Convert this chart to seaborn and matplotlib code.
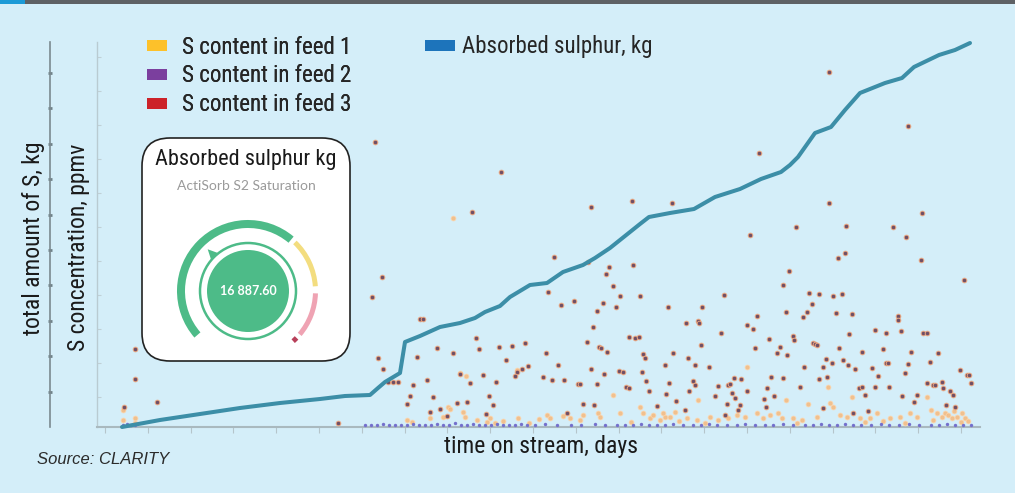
import matplotlib
matplotlib.use("Agg")
import numpy as np
import matplotlib.pyplot as plt
import seaborn as sns
from matplotlib.patches import Patch, Rectangle, FancyBboxPatch, Wedge, Circle, Polygon

# absorbed sulphur, cumulative (days on stream, kg)
line_days = [6.25, 15.75, 25.75, 35.75, 45.75, 55.75, 62, 68.25, 70.25, 72,
             75.75, 77, 80.75, 85.75, 90.75, 94.5, 97, 100.75, 103.25, 108.25,
             112.5, 116.5, 121.5, 124.5, 128.25, 132, 135.75, 138, 143.25, 149.25,
             154.5, 160.75, 166, 171, 173.25, 175.25, 179.5, 183.5, 187, 190.75,
             197, 201.25, 204.25, 210.5, 214.5, 218.25]
line_kg = [0, 350, 650, 950, 1200, 1400, 1550, 1600, 1950, 2250,
           2700, 4250, 4550, 5000, 5200, 5450, 5750, 6050, 6500, 7100,
           7200, 7750, 8100, 8450, 8950, 9550, 10150, 10500, 10700, 10900,
           11500, 11900, 12400, 12750, 13100, 13500, 14700, 15000, 15850, 16700,
           17200, 17450, 18000, 18600, 18850, 19200]

# S content in feed 1 (days, ppmv)
feed1_days = [6.5, 6.5, 9.5, 9.5, 89, 77.5, 78.75, 83.25, 86.5, 87.75,
              88.25, 91.5, 92, 95, 97.5, 98.25, 105.25, 112.5, 113.25, 116.5,
              118.25, 120.75, 121.5, 125.25, 125.75, 129, 130.75, 135.75, 136.5, 138.25,
              139, 140.75, 142, 90.75, 92.25, 105, 141.5, 143.25, 144.5, 147.5,
              150, 150.25, 153.25, 155.25, 157.75, 160, 162.5, 162, 165, 166.5,
              168.25, 170.25, 171.25, 172.25, 174, 176.25, 177.75, 180, 182.75, 183.25,
              184, 185.75, 187.5, 188.75, 190.75, 193.25, 195, 198.25, 200.75, 203.25,
              205, 207.5, 208.5, 210, 211.25, 212, 212.75, 213.75, 215, 216.25,
              217, 217.75, 99.5, 101.5, 108, 110.5, 133.5, 145.5, 152, 175,
              192, 196.5, 202, 209, 214.25, 216]
feed1_ppmv = [1.4, 3.4, 1.8, 0.8, 41.8, 1.4, 1.0, 1.8, 2.0, 4.0,
              3.6, 3.0, 2.0, 1.4, 1.0, 1.8, 1.8, 2.4, 1.8, 2.2,
              1.8, 1.4, 2.4, 2.8, 2.0, 6.4, 2.8, 4.0, 2.8, 1.8,
              2.4, 1.4, 2.0, 10.8, 10.2, 11.4, 2.8, 2.0, 3.0, 1.8,
              1.4, 5.4, 2.0, 1.4, 1.8, 2.4, 12.0, 2.0, 2.8, 1.8,
              2.4, 2.8, 1.8, 5.4, 1.8, 1.4, 4.6, 2.0, 8.0, 4.8,
              4.0, 2.4, 2.0, 6.0, 1.8, 1.8, 2.8, 1.8, 2.0, 2.8,
              2.0, 6.0, 3.4, 2.8, 2.0, 2.8, 2.4, 1.8, 2.0, 2.8,
              1.8, 1.2, 0.8, 1.2, 0.8, 1.6, 1.0, 1.2, 0.8, 0.8,
              1.0, 1.2, 0.8, 1.4, 3.2, 1.0]

# S content in feed 2 (days, ppmv)
feed2_days = [6.5, 7.5, 8.5, 9.5, 67, 68.5, 70, 71.5, 73, 74.5,
              76, 77.5, 79, 80.5, 82, 83.5, 85, 86.5, 88, 89.5,
              91, 92.5, 94, 95.5, 97, 98.5, 100, 101.5, 103, 104.5,
              106, 107.5, 109.5, 112, 115, 118.5, 121, 124.5, 127, 130,
              132, 134, 136, 138, 140, 142, 144, 146.5, 149, 151,
              153, 155, 157.5, 160, 162, 164.5, 167, 169, 171.5, 174,
              177, 179, 181, 183, 185, 187, 189, 191, 193.5, 196,
              198, 200.5, 203, 205.5, 208.5, 210.5, 212.5, 214.5, 216.5, 218.5]
feed2_ppmv = [0.4, 0.6, 0.4, 0.5, 0.4, 0.5, 0.4, 0.6, 0.4, 0.5,
              0.4, 0.5, 0.6, 0.4, 0.5, 0.4, 0.6, 0.5, 0.4, 0.8,
              0.5, 0.4, 0.6, 0.5, 0.4, 0.5, 0.6, 0.4, 0.5, 0.4,
              0.6, 0.4, 0.5, 0.6, 0.4, 0.5, 0.4, 0.6, 0.5, 0.4,
              0.5, 0.4, 0.6, 0.5, 0.4, 0.4, 0.6, 0.5, 0.4, 0.5,
              0.6, 0.4, 0.5, 0.4, 0.6, 0.5, 0.4, 0.5, 0.6, 0.4,
              0.5, 0.4, 0.6, 0.4, 0.5, 0.6, 0.4, 0.5, 0.4, 0.6,
              0.4, 0.5, 0.6, 0.4, 0.5, 0.4, 0.6, 0.5, 0.4, 0.5]

# S content in feed 3 (days, ppmv)
feed3_days = [9.5, 9.5, 6.75, 15, 60.25, 69.5, 68.75, 71.25, 80.75, 81.5,
              70.25, 71.5, 72.75, 74, 75.25, 80, 79, 78.25, 77.5, 82.5,
              84, 83.25, 85, 85.75, 87.5, 89, 90, 90.75, 92.5, 93.25,
              94.75, 95.5, 96.5, 97.25, 98, 99, 99.75, 100.5, 102.25, 103.75,
              105, 104.5, 106.25, 107, 107.75, 111.5, 112.25, 112.75, 113.75, 114.25,
              115.25, 116, 116.75, 117.5, 119.25, 120.25, 120.75, 121.5, 122.5, 122.75,
              123.5, 124, 124.25, 125, 125, 125.5, 126, 126.5, 126.75, 127.25,
              127.5, 128, 129, 129.75, 130.5, 131.5, 130.75, 132.25, 133, 133,
              134.5, 135.5, 134, 135.75, 136.5, 137, 136.25, 137.25, 138, 140,
              142, 142.25, 142.75, 144, 143, 144.75, 147, 147.25, 147.75, 148,
              149, 149.5, 149.5, 150.25, 150.5, 151, 151.25, 153, 154.5, 155.25,
              156, 156.75, 157, 157.5, 157.75, 158.25, 158.75, 159.25, 159.5, 160.25,
              160.75, 161, 162.5, 162.5, 164, 164.5, 165, 166.75, 167.25, 167.5,
              168, 168.5, 169.25, 170, 170.75, 171.5, 171.5, 172.25, 172.5, 173,
              174, 174.25, 175.75, 176.5, 176.75, 177.5, 178, 178.75, 179, 179.5,
              180, 180.5, 180.5, 181.5, 181.5, 182.25, 182.5, 183.75, 184, 184.75,
              185.25, 185.5, 186.25, 186.5, 187, 187.75, 188, 188.75, 189, 189.5,
              190.5, 191.25, 191.25, 192, 192.75, 193.75, 194.5, 194.5, 195.25, 196.5,
              197.25, 197.25, 197.75, 198, 200.25, 200.25, 201, 201.25, 202, 202.75,
              203.5, 204.25, 205, 206, 206.5, 207.5, 207.5, 208.25, 209, 209.5,
              210.25, 211.25, 211.5, 212.25, 213.25, 214, 214.5, 215.75, 216.75, 217.5,
              218, 218.5, 183, 202.75, 101, 93.75, 123.5, 133.75, 143.75, 165.5,
              183, 206.25, 163.25, 174.75, 187.25, 199, 202.25]
feed3_ppmv = [15.6, 9.6, 4.0, 5.0, 0.8, 57.0, 26.0, 30.0, 21.6, 21.6,
              13.8, 11.6, 9.0, 9.0, 9.0, 14.0, 8.4, 6.2, 4.6, 9.4,
              6.0, 3.0, 15.8, 3.6, 2.2, 14.8, 4.8, 10.6, 5.0, 8.8,
              17.8, 15.6, 10.4, 2.6, 6.2, 4.4, 9.0, 16.0, 13.4, 16.2,
              11.0, 10.2, 11.6, 16.8, 12.2, 10.0, 14.8, 27.0, 9.4, 34.0,
              12.4, 24.4, 9.4, 2.8, 25.2, 8.6, 8.6, 4.6, 17.0, 33.0,
              11.6, 20.0, 4.4, 23.2, 8.6, 16.0, 15.8, 24.8, 10.6, 30.6,
              15.0, 32.0, 28.2, 24.0, 11.2, 11.0, 26.2, 8.0, 7.8, 18.0,
              17.8, 18.0, 32.4, 26.2, 14.6, 13.8, 11.0, 9.2, 7.2, 4.2,
              12.4, 6.6, 24.0, 14.8, 8.8, 5.2, 3.4, 20.8, 13.8, 7.2,
              9.2, 8.4, 12.4, 21.2, 20.8, 16.4, 24.0, 12.0, 6.2, 8.2,
              18.8, 26.4, 2.4, 4.6, 8.4, 8.6, 6.8, 9.8, 5.8, 3.4,
              4.4, 9.6, 20.4, 7.2, 19.6, 15.8, 22.2, 5.6, 4.0, 7.8,
              17.6, 10.0, 6.2, 14.8, 16.0, 28.4, 9.8, 23.0, 14.4, 31.2,
              18.2, 17.4, 8.0, 22.0, 12.0, 23.0, 26.8, 24.6, 16.8, 16.6,
              16.4, 26.6, 9.6, 3.8, 12.0, 13.6, 10.0, 12.8, 26.2, 22.8,
              33.8, 15.8, 26.6, 13.4, 34.8, 12.4, 18.6, 22.6, 2.8, 11.6,
              7.8, 8.0, 15.0, 6.4, 3.2, 11.8, 19.4, 8.0, 10.2, 15.6,
              18.8, 12.8, 12.8, 8.0, 22.2, 21.4, 19.2, 6.2, 10.8, 12.6,
              15.0, 5.0, 6.4, 33.4, 18.8, 18.8, 8.8, 13.0, 8.4, 8.4,
              14.8, 9.0, 7.8, 4.4, 7.2, 6.4, 4.0, 11.4, 29.4, 10.4,
              10.4, 8.8, 71.0, 60.2, 51.0, 43.0, 44.0, 45.2, 44.8, 54.8,
              44.8, 42.8, 38.4, 40.0, 40.2, 40.0, 38.0]

feed_labels = ["S content in feed 1", "S content in feed 2", "S content in feed 3"]
line_label = "Absorbed sulphur, kg"

# gauge widget in the inset
gauge_value = "16 887.60"
gauge_angles = [(50, 221), (4, 46), (-40, -2), (-48, -44)]

BG = "#d4eef9"
W, H = 1015, 493

sns.set_theme(style="white")
plt.rcParams["font.family"] = ["Roboto Condensed", "DejaVu Sans"]
plt.rcParams["font.stretch"] = "condensed"

fig = plt.figure(figsize=(W / 100, H / 100), dpi=100, facecolor=BG)

# top banner
fig.patches.append(Rectangle((0, 1 - 4 / H), 1, 4 / H, transform=fig.transFigure,
                             facecolor="#5e6165", edgecolor="none"))
fig.patches.append(Rectangle((0, 1 - 4 / H), 25 / W, 4 / H, transform=fig.transFigure,
                             facecolor="#1b9ad7", edgecolor="none"))

ax = fig.add_axes([97 / W, 66 / H, 883 / W, 385 / H])
ax.set_facecolor(BG)
ax.set_xlim(0, 220.75)
ax.set_ylim(0, 77)

sns.scatterplot(x=feed1_days, y=feed1_ppmv, ax=ax, color="#f6b87c", s=12,
                edgecolor="#fcd5ac", linewidth=0.6, alpha=0.85, legend=False, zorder=3)
sns.scatterplot(x=feed2_days, y=feed2_ppmv, ax=ax, color="#7470cc", s=6,
                linewidth=0, legend=False, zorder=4, clip_on=False)
sns.scatterplot(x=feed3_days, y=feed3_ppmv, ax=ax, color="#6f4f66", s=11,
                edgecolor="#eaa47e", linewidth=0.7, legend=False, zorder=5)

ax.set_xticks(np.arange(2, 220, 10.7))
ax.set_yticks(np.arange(6, 77, 6.8))
ax.tick_params(labelleft=False, labelbottom=False)
ax.tick_params(axis="y", left=True, direction="in", length=3, width=0.8, color="#c0d0d6")
ax.tick_params(axis="x", bottom=True, direction="out", length=4, width=0.8, color="#b5c5cb")
for side in ["top", "right"]:
    ax.spines[side].set_visible(False)
ax.spines["left"].set_color("#b9cbd2")
ax.spines["left"].set_linewidth(1)
ax.spines["bottom"].set_color("#a9b9bf")
ax.spines["bottom"].set_linewidth(1.5)
ax.set_xlabel("")
ax.set_ylabel("")

ax2 = ax.twinx()
ax2.set_ylim(0, 19250)
sns.lineplot(x=line_days, y=line_kg, ax=ax2, color="#3c8ea7", linewidth=2.9,
             estimator=None, sort=False, clip_on=False)
ax2.set_ylabel("")
for side in ["top", "right", "bottom"]:
    ax2.spines[side].set_visible(False)
ax2.spines["left"].set_visible(True)
ax2.spines["left"].set_position(("axes", -47 / 883))
ax2.spines["left"].set_color("#7a8a90")
ax2.spines["left"].set_linewidth(1.2)
ax2.yaxis.tick_left()
ax2.set_yticks(np.arange(1770, 19250, 1770))
ax2.tick_params(axis="y", left=True, right=False, labelleft=False, labelright=False,
                direction="inout", length=3, width=2, color="#6f8188")

# axis titles
fig.text(34 / W, 1 - 238 / H, "total amount of S, kg", rotation=90, ha="center", va="center",
         fontsize=17, color="#1a1a1a")
fig.text(78 / W, 1 - 247 / H, "S concentration, ppmv", rotation=90, ha="center", va="center",
         fontsize=17, color="#1a1a1a")
fig.text(541 / W, 1 - 446 / H, "time on stream, days", ha="center", va="center",
         fontsize=17, color="#1a1a1a")
fig.text(37 / W, 1 - 460 / H, "Source: CLARITY", ha="left", va="center", fontsize=12,
         style="italic", stretch="normal", family=["Liberation Sans", "DejaVu Sans"],
         color="#2b2b2b")

# legends
feed_colors = ["#fdc12a", "#7b3f9e", "#cc2229"]
leg1 = fig.legend(handles=[Patch(facecolor=c, edgecolor="none", label=l)
                           for c, l in zip(feed_colors, feed_labels)],
                  loc="upper left", bbox_to_anchor=(147 / W, 1 - 35.5 / H), frameon=False,
                  fontsize=16.5, handlelength=0.87, handleheight=0.39, handletextpad=0.65,
                  labelspacing=0.26, borderpad=0, borderaxespad=0)
leg2 = fig.legend(handles=[Patch(facecolor="#1d74bb", edgecolor="none", label=line_label)],
                  loc="upper left", bbox_to_anchor=(425 / W, 1 - 35.5 / H), frameon=False,
                  fontsize=16.5, handlelength=1.31, handleheight=0.39, handletextpad=0.32,
                  borderpad=0, borderaxespad=0)
fig.add_artist(leg1)

# inset gauge box
axin = fig.add_axes([141 / W, (H - 362) / H, 210 / W, 225 / H])
axin.set_xlim(0, 210)
axin.set_ylim(0, 225)
axin.axis("off")
axin.add_patch(FancyBboxPatch((1, 1), 208, 223, boxstyle="round,pad=0,rounding_size=28",
                              facecolor="white", edgecolor="#222222", linewidth=1.2, clip_on=False))
axin.text(105, 202, "Absorbed sulphur kg", ha="center", va="center", fontsize=16, color="#1a1a1a")
axin.text(105, 176, "ActiSorb S2 Saturation", ha="center", va="center", fontsize=10,
          family=["Lato", "DejaVu Sans"], stretch="normal", color="#9a9a9a")

cx, cy = 107, 71
green = "#4dbb88"
seg_colors = [green, "#f3dd7f", "#efa3b3", "#b8405a"]
seg_widths = [8, 5, 5, 5]
seg_radius = [71, 70, 70, 70]
for (a1, a2), c, w, r in zip(gauge_angles, seg_colors, seg_widths, seg_radius):
    axin.add_patch(Wedge((cx, cy), r, a1, a2, width=w, facecolor=c, edgecolor="none"))
axin.add_patch(Circle((cx, cy), 48, fill=False, edgecolor=green, linewidth=1.8))
axin.add_patch(Circle((cx, cy), 41, facecolor=green, edgecolor="none"))
ang = np.radians([128, 134, 140])
rad = np.array([48, 58, 48])
axin.add_patch(Polygon(np.column_stack([cx + rad * np.cos(ang), cy + rad * np.sin(ang)]),
                       facecolor=green, edgecolor="none"))
axin.text(cx, cy, gauge_value, ha="center", va="center", fontsize=9, fontweight="bold",
          family=["Lato", "DejaVu Sans"], stretch="normal", color="white")

fig.savefig("out.png", dpi=100, facecolor=BG)
